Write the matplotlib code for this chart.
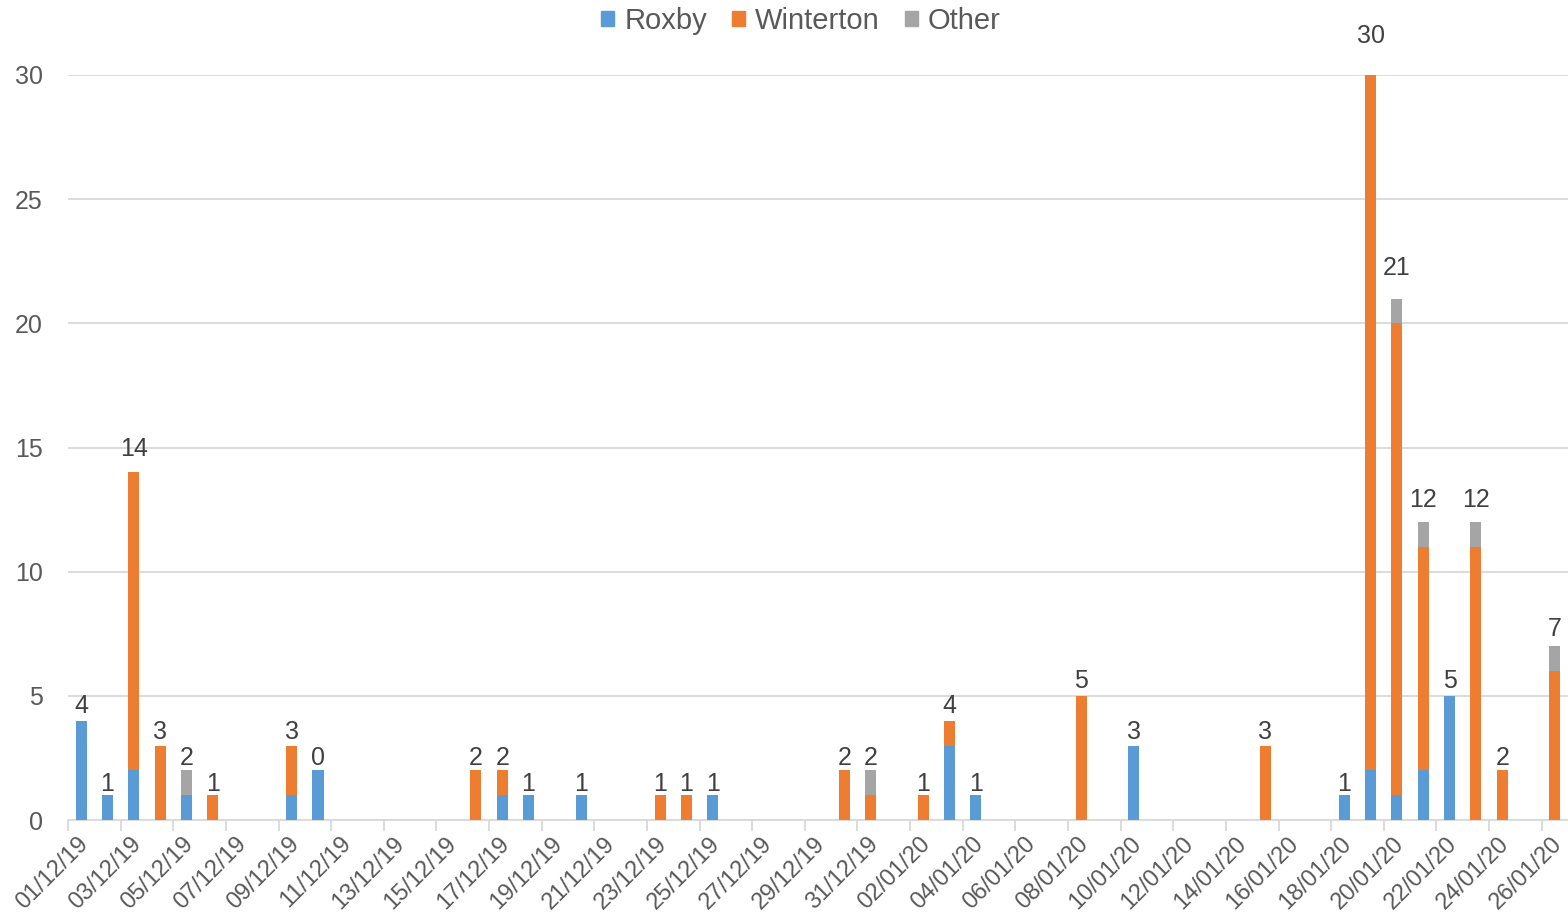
import numpy as np
import pandas as pd
import matplotlib
matplotlib.use('Agg')
import matplotlib.pyplot as plt
import matplotlib.transforms as mtransforms
from matplotlib.patches import Patch

plt.rcParams['font.family'] = ['Liberation Sans', 'DejaVu Sans']

# days with any cases (dd/mm/yy), per-site counts and the printed labels
days = ['01/12/19', '02/12/19', '03/12/19', '04/12/19', '05/12/19', '06/12/19',
        '09/12/19', '10/12/19', '16/12/19', '17/12/19', '18/12/19', '20/12/19',
        '23/12/19', '24/12/19', '25/12/19', '30/12/19', '31/12/19', '02/01/20',
        '03/01/20', '04/01/20', '08/01/20', '10/01/20', '15/01/20', '18/01/20',
        '19/01/20', '20/01/20', '21/01/20', '22/01/20', '23/01/20', '24/01/20',
        '26/01/20']
roxby =     [4, 1, 2, 0, 1, 0, 1, 2, 0, 1, 1, 1, 0, 0, 1, 0, 0, 0, 3, 1, 0, 3, 0, 1, 2, 1, 2, 5, 0, 0, 0]
winterton = [0, 0, 12, 3, 0, 1, 2, 0, 2, 1, 0, 0, 1, 1, 0, 2, 1, 1, 1, 0, 5, 0, 3, 0, 28, 19, 9, 0, 11, 2, 6]
other =     [0, 0, 0, 0, 1, 0, 0, 0, 0, 0, 0, 0, 0, 0, 0, 0, 1, 0, 0, 0, 0, 0, 0, 0, 0, 1, 1, 0, 1, 0, 1]
totals =    [4, 1, 14, 3, 2, 1, 3, 0, 2, 2, 1, 1, 1, 1, 1, 2, 2, 1, 4, 1, 5, 3, 3, 1, 30, 21, 12, 5, 12, 2, 7]

start = pd.Timestamp('2019-12-01')
end = pd.Timestamp('2020-01-26')
dates = pd.to_datetime(days, format='%d/%m/%y')
x = np.array((dates - start).days)
roxby = np.array(roxby)
winterton = np.array(winterton)
other = np.array(other)

c_rox, c_win, c_oth = '#5B9BD5', '#ED7D31', '#A5A5A5'
grid_c = '#D9D9D9'
txt_c = '#595959'

fig = plt.figure(figsize=(15.68, 9.18), dpi=100)
ax = fig.add_axes([68 / 1568, 1 - 820 / 918, 1 - 68 / 1568, (820 - 75) / 918])

w = 0.42
ax.bar(x, roxby, w, color=c_rox, zorder=3)
ax.bar(x, winterton, w, bottom=roxby, color=c_win, zorder=3)
ax.bar(x, other, w, bottom=roxby + winterton, color=c_oth, zorder=3)

# labels sit a little above each stack (further up for the tall ones)
for xi, top, lab in zip(x, roxby + winterton + other, totals):
    ax.annotate(str(lab), (xi, top * 1.038), xytext=(0, 2.5), textcoords='offset points',
                ha='center', va='baseline', fontsize=18, color='#404040',
                annotation_clip=False)

ndays = (end - start).days
ax.set_xlim(-0.5, ndays + 0.5)
ax.set_ylim(0, 30)
ax.set_yticks(range(0, 31, 5))
ax.yaxis.grid(True, color=grid_c, linewidth=1.3, zorder=0)
ax.tick_params(axis='y', length=0, pad=18, labelsize=18, labelcolor=txt_c)

tick_days = np.arange(0, ndays + 1, 2)
ax.set_xticks(tick_days)
ax.set_xticklabels([(start + pd.Timedelta(days=int(d))).strftime('%d/%m/%y') for d in tick_days],
                   rotation=45, ha='right', rotation_mode='anchor')
ax.tick_params(axis='x', which='major', length=0, pad=9, labelsize=17, labelcolor=txt_c)
shift = mtransforms.ScaledTranslation(-4 / 100, 0, fig.dpi_scale_trans)
for lbl in ax.get_xticklabels():
    lbl.set_transform(lbl.get_transform() + shift)
ax.set_xticks(tick_days - 0.5, minor=True)
ax.tick_params(axis='x', which='minor', length=8, width=1.3, color=grid_c)

for s in ['top', 'right', 'left']:
    ax.spines[s].set_visible(False)
ax.spines['bottom'].set_color(grid_c)
ax.spines['bottom'].set_linewidth(1.3)

handles = [Patch(color=c_rox, label='Roxby'),
           Patch(color=c_win, label='Winterton'),
           Patch(color=c_oth, label='Other')]
fig.legend(handles=handles, loc='center', bbox_to_anchor=(801 / 1568, 1 - 21 / 918),
           ncol=3, frameon=False, fontsize=21, handlelength=0.45, handleheight=0.45,
           handletextpad=0.35, columnspacing=0.85, labelcolor=txt_c)

fig.savefig('out.png', dpi=100)
